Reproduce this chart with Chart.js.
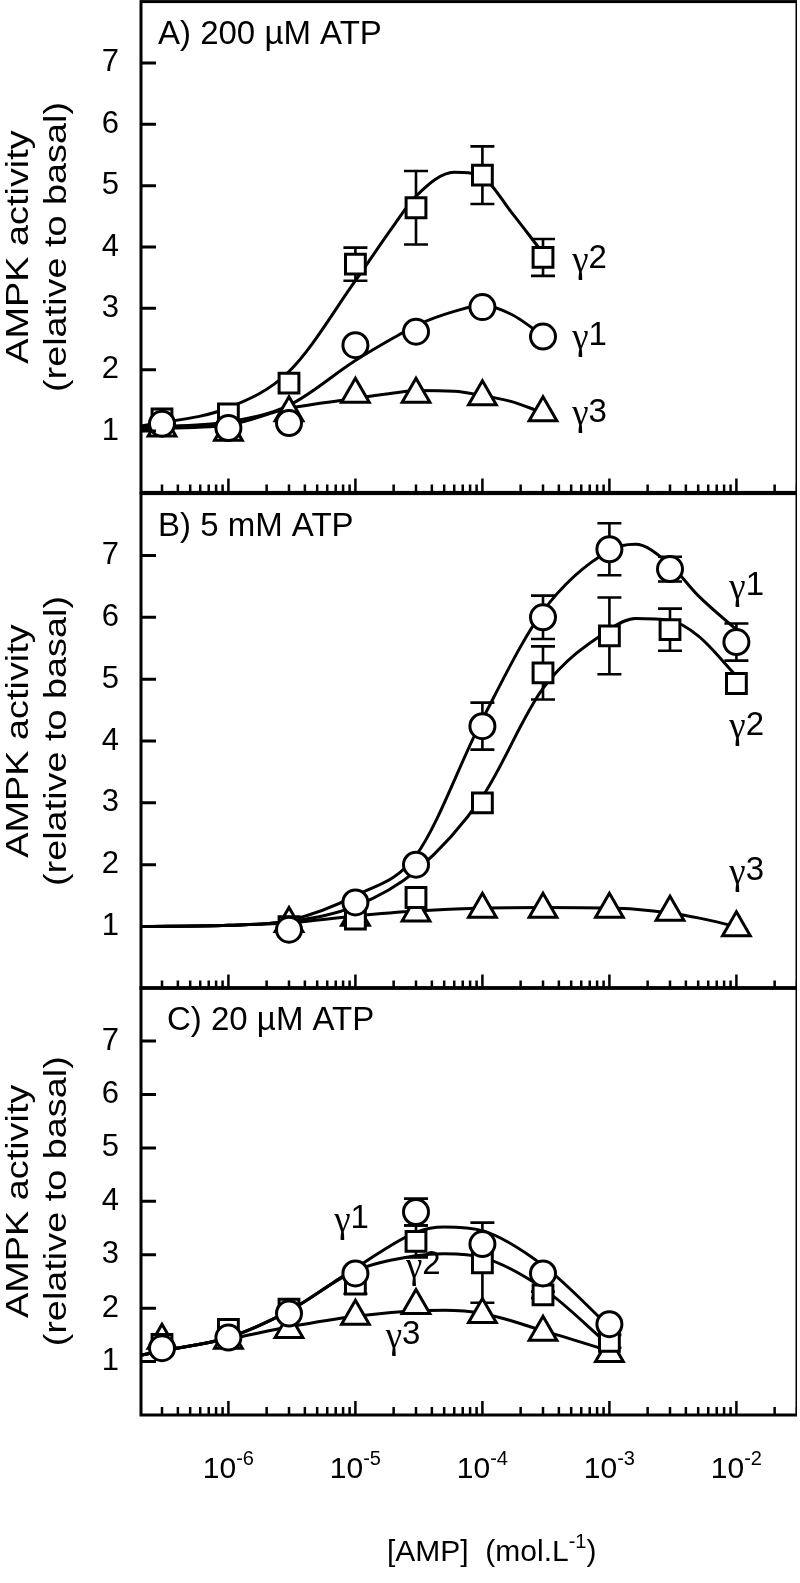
<!DOCTYPE html>
<html>
<head>
<meta charset="utf-8">
<script src="https://cdn.jsdelivr.net/npm/chart.js@4.4.0/dist/chart.umd.min.js"></script>
<style>
  html, body { margin: 0; padding: 0; background: #fff; overflow: hidden; }
  #wrap { position: relative; width: 800px; height: 1583px; overflow: hidden; }
  canvas { position: absolute; left: 0; top: 0; }
</style>
</head>
<body>
<div id="wrap">
  <canvas id="chartA"></canvas>
  <canvas id="chartB"></canvas>
  <canvas id="chartC"></canvas>
</div>
<script>
const SANS = '"Liberation Sans", Arial, sans-serif';
const SERIF = '"Liberation Serif", "Times New Roman", serif';

const X_MIN = 2.05e-7;
const X_MAX = 3e-2;
const yTickValues = [1, 2, 3, 4, 5, 6, 7];
const xTickPowers = [-6, -5, -4, -3, -2];
const yTitle = ['AMPK activity', '(relative to basal)'];

// A) 200 uM ATP
const aDose = [3e-7, 1e-6, 3e-6, 1e-5, 3e-5, 1e-4, 3e-4];
const aG1 = [1.12, 1.05, 1.13, 2.40, 2.62, 3.02, 2.54];
const aG2 = [1.20, 1.28, 1.78, 3.72, 4.64, 5.17, 3.83];
const aG2Err = [0, 0, 0, 0.27, 0.60, 0.47, 0.30];
const aG3 = [1.05, 0.98, 1.30, 1.60, 1.60, 1.56, 1.30];
const aFitX = [2.05e-7, 1e-6, 3e-6, 1e-5, 2e-5, 3e-5, 6e-5, 1e-4, 1.7e-4, 2.8e-4];
const aFit1 = [1.06, 1.15, 1.42, 2.15, 2.52, 2.72, 2.95, 3.05, 2.90, 2.60];
const aFit2 = [1.08, 1.38, 1.97, 3.45, 4.35, 4.83, 5.22, 5.14, 4.56, 3.98];
const aFit3 = [1.04, 1.10, 1.37, 1.53, 1.62, 1.66, 1.65, 1.58, 1.48, 1.32];

// B) 5 mM ATP
const bDose = [3e-6, 1e-5, 3e-5, 1e-4, 3e-4, 1e-3, 3e-3, 1e-2];
const bG1 = [0.95, 1.39, 2.00, 4.24, 6.00, 7.10, 6.78, 5.60];
const bG1Err = [0, 0, 0, 0.38, 0.35, 0.42, 0.20, 0.30];
const bG2 = [1.00, 1.12, 1.47, 3.00, 5.10, 5.70, 5.80, 4.93];
const bG2Err = [0, 0, 0, 0, 0.43, 0.62, 0.34, 0];
const bG3 = [1.05, 1.15, 1.22, 1.28, 1.28, 1.28, 1.23, 0.98];
const bFitX = [2.05e-7, 1e-6, 3e-6, 1e-5, 3e-5, 1e-4, 3e-4, 1e-3, 1.6e-3, 3e-3, 5e-3, 1e-2];
const bFit1 = [1.00, 1.02, 1.10, 1.50, 2.15, 4.35, 6.10, 7.08, 7.18, 6.85, 6.35, 5.80];
const bFit2 = [1.00, 1.02, 1.08, 1.33, 1.90, 3.10, 4.85, 5.80, 5.98, 5.95, 5.70, 5.05];
const bFit3 = [1.00, 1.02, 1.06, 1.17, 1.25, 1.30, 1.31, 1.30, 1.28, 1.22, 1.14, 1.00];

// C) 20 uM ATP
const cDose = [3e-7, 1e-6, 3e-6, 1e-5, 3e-5, 1e-4, 3e-4, 1e-3];
const cG1 = [1.25, 1.45, 1.90, 2.65, 3.80, 3.20, 2.65, 1.70];
const cG1Err = [0, 0, 0, 0, 0.25, 0, 0, 0];
const cG2 = [1.32, 1.60, 1.98, 2.45, 3.25, 2.85, 2.25, 1.38];
const cG2Err = [0, 0, 0, 0.18, 0.30, 0.75, 0.06, 0.12];
const cG3 = [1.40, 1.40, 1.60, 1.85, 2.05, 1.88, 1.55, 1.15];
const cFitX = [2.05e-7, 3e-7, 1e-6, 3e-6, 1e-5, 3e-5, 5e-5, 1e-4, 3e-4, 1e-3];
const cFit1 = [1.12, 1.20, 1.45, 1.95, 2.75, 3.42, 3.52, 3.45, 2.80, 1.65];
const cFit2 = [1.12, 1.20, 1.45, 1.95, 2.70, 2.98, 3.02, 2.95, 2.37, 1.30];
const cFit3 = [1.12, 1.20, 1.42, 1.65, 1.85, 1.95, 1.96, 1.90, 1.58, 1.20];

const toPts = (xs, ys) => xs.map((x, i) => ({ x: x, y: ys[i] }));

const markerSet = (xs, ys, style, r) => ({
    data: toPts(xs, ys),
    showLine: false,
    pointStyle: style,
    pointRadius: r,
    pointHoverRadius: r,
    pointBackgroundColor: '#fff',
    pointBorderColor: '#000',
    pointBorderWidth: 3,
    order: 0
});

const fitSet = (xs, ys) => ({
    data: toPts(xs, ys),
    showLine: true,
    borderColor: '#000',
    borderWidth: 3,
    pointRadius: 0,
    cubicInterpolationMode: 'monotone',
    order: 1
});

const drawGamma = (ctx, num, x, y) => {
    ctx.textBaseline = 'middle';
    ctx.textAlign = 'left';
    ctx.font = '37px ' + SERIF;
    ctx.fillText('\u03b3', x, y + 3);
    const w = ctx.measureText('\u03b3').width;
    ctx.font = '33px ' + SANS;
    ctx.fillText(num, x + w, y);
};

const drawPow = (ctx, base, sup, x, baseline, size, align) => {
    ctx.textBaseline = 'alphabetic';
    ctx.textAlign = 'left';
    ctx.font = size + 'px ' + SANS;
    const w1 = ctx.measureText(base).width;
    ctx.font = Math.round(size * 0.66) + 'px ' + SANS;
    const w2 = ctx.measureText(sup).width;
    const x0 = align === 'center' ? x - (w1 + w2) / 2 : x;
    ctx.font = size + 'px ' + SANS;
    ctx.fillText(base, x0, baseline);
    ctx.font = Math.round(size * 0.66) + 'px ' + SANS;
    ctx.fillText(sup, x0 + w1, baseline - size * 0.42);
    return x0 + w1 + w2;
};

const deco = {
    id: 'deco',
    beforeDatasetsDraw(chart, args, opts) {
        const ctx = chart.ctx;
        const xs = chart.scales.x, ys = chart.scales.y;
        ctx.save();
        ctx.strokeStyle = '#000';
        ctx.lineWidth = 2.6;
        opts.errors.forEach(set => {
            set.x.forEach((xv, i) => {
                const e = set.err[i];
                if (!e) return;
                const px = xs.getPixelForValue(xv);
                const y1 = ys.getPixelForValue(set.y[i] - e);
                const y2 = ys.getPixelForValue(set.y[i] + e);
                ctx.beginPath();
                ctx.moveTo(px, y1); ctx.lineTo(px, y2);
                ctx.moveTo(px - 12, y1); ctx.lineTo(px + 12, y1);
                ctx.moveTo(px - 12, y2); ctx.lineTo(px + 12, y2);
                ctx.stroke();
            });
        });
        ctx.restore();
    },
    afterDraw(chart, args, opts) {
        const ctx = chart.ctx;
        const area = chart.chartArea;
        const xs = chart.scales.x, ys = chart.scales.y;
        ctx.save();
        ctx.fillStyle = '#000';
        ctx.strokeStyle = '#000';

        // frame
        ctx.lineWidth = 3;
        ctx.strokeRect(area.left, area.top, area.right - area.left, area.bottom - area.top);

        // inward y ticks
        ctx.beginPath();
        yTickValues.forEach(v => {
            const py = ys.getPixelForValue(v);
            ctx.moveTo(area.left, py);
            ctx.lineTo(area.left + 15, py);
        });
        ctx.stroke();

        // inward log x ticks
        ctx.lineWidth = 2.5;
        ctx.beginPath();
        for (let p = -7; p <= -2; p++) {
            for (let k = 1; k <= 9; k++) {
                const v = k * Math.pow(10, p);
                if (v < X_MIN || v > X_MAX) continue;
                const px = xs.getPixelForValue(v);
                ctx.moveTo(px, area.bottom);
                ctx.lineTo(px, area.bottom - (k === 1 ? 14 : 8));
            }
        }
        ctx.stroke();

        // y axis title, two rotated lines, a bit stretched along the text
        ctx.save();
        ctx.translate(area.left - 141, (area.top + area.bottom) / 2);
        ctx.rotate(-Math.PI / 2);
        ctx.scale(1.22, 1);
        ctx.font = '31px ' + SANS;
        ctx.textAlign = 'center';
        ctx.textBaseline = 'middle';
        ctx.fillText(yTitle[0], 0, 19);
        ctx.fillText(yTitle[1], 0, 57);
        ctx.restore();

        // panel title
        ctx.font = '33px ' + SANS;
        ctx.textAlign = 'left';
        ctx.textBaseline = 'middle';
        ctx.fillText(opts.title, area.left + opts.titleDx, area.top + 33);

        // series labels
        opts.labels.forEach(l => {
            drawGamma(ctx, l.n, xs.getPixelForValue(l.x), ys.getPixelForValue(l.y));
        });

        // bottom axis labels (last panel only)
        if (opts.showX) {
            xTickPowers.forEach(p => {
                const px = xs.getPixelForValue(Math.pow(10, p));
                drawPow(ctx, '10', String(p), px, area.bottom + 63, 30, 'center');
            });
            const end = drawPow(ctx, '[AMP]  (mol.L', '-1', area.left + 246, area.bottom + 146, 30, 'left');
            ctx.font = '30px ' + SANS;
            ctx.fillText(')', end, area.bottom + 146);
        }
        ctx.restore();
    }
};

const chartConfig = (datasets, padBottom, decoOpts) => ({
    type: 'scatter',
    data: { datasets: datasets() },
    plugins: [deco],
    options: {
        responsive: false,
        animation: false,
        events: [],
        layout: { autoPadding: false, padding: { top: 0, right: 0, bottom: padBottom, left: 0 } },
        plugins: {
            legend: { display: false },
            tooltip: { enabled: false },
            deco: decoOpts
        },
        scales: {
            x: { type: 'logarithmic', min: X_MIN, max: X_MAX, display: false },
            y: {
                type: 'linear',
                min: 0,
                max: 8,
                afterFit: s => { s.width = 141; },
                grid: { display: true, drawOnChartArea: false, drawTicks: true, tickLength: 22, color: 'rgba(0,0,0,0)' },
                border: { display: false },
                ticks: {
                    stepSize: 1,
                    autoSkip: false,
                    padding: 0,
                    color: '#000',
                    font: { family: SANS, size: 31 },
                    callback: v => (v >= 1 && v <= 7) ? v : null
                },
                title: { display: false }
            }
        }
    }
});

// Chart.js keeps some room round the plot box; measure it and size/place the canvas so
// the plot box lands where the reference has it (page coordinates in `want`).
const makeChart = (id, want, padBottom, datasets, decoOpts) => {
    const canvas = document.getElementById(id);
    let W = want.right + 8;
    let H = want.bottom - want.top + padBottom + 30;
    let chart = null;
    for (let i = 0; i < 4; i++) {
        canvas.width = W;
        canvas.height = H;
        chart = new Chart(canvas, chartConfig(datasets, padBottom, decoOpts));
        const a = chart.chartArea;
        const newW = Math.round(want.right + (W - a.right) + (a.left - 141));
        const newH = Math.round((want.bottom - want.top) + a.top + (H - a.bottom));
        canvas.style.top = (want.top - a.top) + 'px';
        canvas.style.left = (141 - a.left) + 'px';
        if (newW === W && newH === H) break;
        chart.destroy();
        W = newW;
        H = newH;
    }
    canvas.style.position = 'absolute';
    return chart;
};

makeChart('chartA', { top: 2, bottom: 493, right: 797 }, 0, () => [
    markerSet(aDose, aG1, 'circle', 12.5),
    markerSet(aDose, aG2, 'rect', 14),
    markerSet(aDose, aG3, 'triangle', 16),
    fitSet(aFitX, aFit1),
    fitSet(aFitX, aFit2),
    fitSet(aFitX, aFit3)
], {
    title: 'A) 200 \u00b5M ATP',
    titleDx: 17,
    errors: [{ x: aDose, y: aG2, err: aG2Err }],
    labels: [
        { n: '2', x: 5.1e-4, y: 3.8 },
        { n: '1', x: 5.1e-4, y: 2.55 },
        { n: '3', x: 5.1e-4, y: 1.3 }
    ],
    showX: false
});

makeChart('chartB', { top: 494, bottom: 989, right: 797 }, 0, () => [
    markerSet(bDose, bG1, 'circle', 12.5),
    markerSet(bDose, bG2, 'rect', 14),
    markerSet(bDose, bG3, 'triangle', 16),
    fitSet(bFitX, bFit1),
    fitSet(bFitX, bFit2),
    fitSet(bFitX, bFit3)
], {
    title: 'B) 5 mM ATP',
    titleDx: 17,
    errors: [{ x: bDose, y: bG1, err: bG1Err }, { x: bDose, y: bG2, err: bG2Err }],
    labels: [
        { n: '1', x: 8.8e-3, y: 6.5 },
        { n: '2', x: 8.8e-3, y: 4.25 },
        { n: '3', x: 8.8e-3, y: 1.9 }
    ],
    showX: false
});

makeChart('chartC', { top: 988, bottom: 1415, right: 797 }, 165, () => [
    markerSet(cDose, cG1, 'circle', 12.5),
    markerSet(cDose, cG2, 'rect', 14),
    markerSet(cDose, cG3, 'triangle', 16),
    fitSet(cFitX, cFit1),
    fitSet(cFitX, cFit2),
    fitSet(cFitX, cFit3)
], {
    title: 'C) 20 \u00b5M ATP',
    titleDx: 26,
    errors: [{ x: cDose, y: cG1, err: cG1Err }, { x: cDose, y: cG2, err: cG2Err }],
    labels: [
        { n: '1', x: 6.8e-6, y: 3.67 },
        { n: '2', x: 2.5e-5, y: 2.81 },
        { n: '3', x: 1.73e-5, y: 1.5 }
    ],
    showX: true
});
</script>
</body>
</html>
